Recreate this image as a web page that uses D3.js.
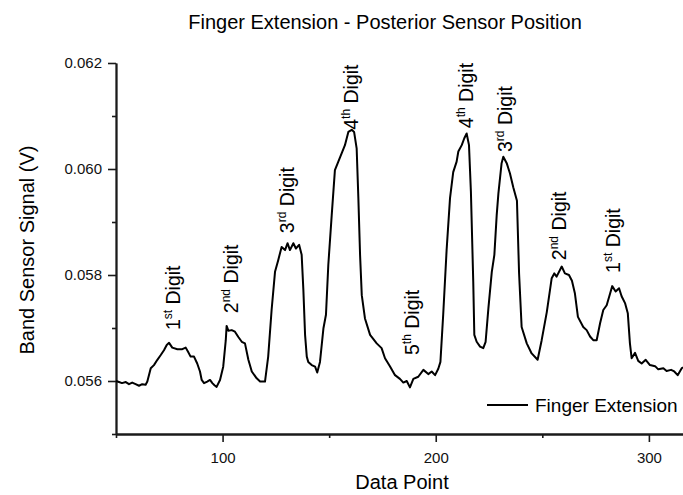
<!DOCTYPE html>
<html>
<head>
<meta charset="utf-8">
<script src="https://d3js.org/d3.v7.min.js"></script>
<style>
body { margin: 0; background: #fff; }
svg { display: block; font-family: "Liberation Sans", Arial, sans-serif; }
</style>
</head>
<body>
<svg id="drawing_region"></svg>
<script>
// data point index and band sensor signal (V)
const pointX = [
    50.0, 51.4, 52.8, 54.6, 56.1, 57.6, 59.2, 60.8, 62.3, 63.9,
    64.7, 66.3, 67.8, 69.4, 71.0, 72.5, 73.8, 74.9, 76.4, 78.8,
    81.1, 82.7, 83.8, 85.0, 86.6, 88.1, 89.4, 90.2, 91.3, 92.8,
    94.1, 95.2, 96.2, 97.2, 98.8, 100.3, 101.5, 101.9, 102.7, 104.3,
    105.8, 107.4, 109.0, 110.5, 112.1, 113.7, 116.0, 117.6, 119.9, 121.4,
    123.0, 124.6, 126.1, 127.7, 129.3, 130.5, 131.6, 133.2, 134.4, 135.9,
    137.1, 137.9, 138.7, 139.5, 140.2, 141.8, 143.4, 144.4, 145.7, 147.3,
    148.5, 149.6, 151.2, 152.7, 154.3, 155.9, 157.4, 159.0, 160.6, 161.7,
    162.9, 163.7, 164.5, 165.3, 166.8, 169.2, 172.3, 174.6, 176.2, 178.5,
    180.9, 183.2, 184.8, 186.4, 187.9, 189.5, 191.8, 194.2, 196.5, 198.1,
    199.7, 201.2, 202.2, 203.5, 205.1, 206.7, 208.2, 209.8, 210.6, 212.2,
    213.4, 214.5, 215.6, 216.5, 217.6, 218.1, 219.2, 220.8, 222.3, 223.4,
    224.7, 226.3, 227.5, 228.6, 229.4, 230.9, 231.7, 233.3, 234.8, 236.4,
    238.1, 239.1, 240.3, 242.7, 245.0, 247.8, 249.7, 252.1, 254.4, 255.6,
    256.7, 259.1, 260.6, 262.5, 263.9, 265.3, 266.7, 269.2, 270.8, 272.4,
    273.9, 275.5, 277.1, 278.6, 280.2, 281.8, 282.8, 284.4, 286.0, 287.2,
    288.8, 290.1, 291.1, 291.9, 293.5, 295.0, 296.6, 298.5, 300.5, 302.9,
    304.4, 306.8, 308.3, 310.4, 311.9, 313.5, 315.4, 316.0
];
const signal = [
    0.05600, 0.05598, 0.05596, 0.05598, 0.05594, 0.05597, 0.05594, 0.05591, 0.05594, 0.05593,
    0.05599, 0.05624, 0.05630, 0.05640, 0.05649, 0.05658, 0.05668, 0.05672, 0.05663, 0.05660,
    0.05660, 0.05663, 0.05655, 0.05646, 0.05646, 0.05633, 0.05618, 0.05602, 0.05596, 0.05599,
    0.05602, 0.05596, 0.05592, 0.05589, 0.05602, 0.05627, 0.05677, 0.05704, 0.05695, 0.05696,
    0.05693, 0.05683, 0.05674, 0.05671, 0.05640, 0.05618, 0.05605, 0.05599, 0.05599, 0.05646,
    0.05734, 0.05806, 0.05828, 0.05853, 0.05847, 0.05860, 0.05847, 0.05860, 0.05850, 0.05857,
    0.05838, 0.05772, 0.05687, 0.05646, 0.05636, 0.05630, 0.05627, 0.05616, 0.05636, 0.05699,
    0.05725, 0.05819, 0.05913, 0.05998, 0.06014, 0.06030, 0.06045, 0.06070, 0.06074, 0.06070,
    0.06039, 0.05945, 0.05838, 0.05762, 0.05718, 0.05687, 0.05671, 0.05662, 0.05643, 0.05628,
    0.05611, 0.05604, 0.05597, 0.05600, 0.05588, 0.05604, 0.05608, 0.05621, 0.05613, 0.05618,
    0.05611, 0.05623, 0.05636, 0.05725, 0.05847, 0.05945, 0.05994, 0.06014, 0.06033, 0.06045,
    0.06058, 0.06067, 0.06045, 0.05957, 0.05787, 0.05687, 0.05674, 0.05665, 0.05662, 0.05674,
    0.05737, 0.05806, 0.05838, 0.05913, 0.05954, 0.06011, 0.06023, 0.06011, 0.05992, 0.05965,
    0.05940, 0.05803, 0.05702, 0.05671, 0.05652, 0.05640, 0.05677, 0.05730, 0.05794, 0.05803,
    0.05797, 0.05816, 0.05803, 0.05800, 0.05789, 0.05765, 0.05721, 0.05702, 0.05696, 0.05684,
    0.05677, 0.05677, 0.05709, 0.05734, 0.05743, 0.05765, 0.05779, 0.05769, 0.05775, 0.05760,
    0.05747, 0.05728, 0.05671, 0.05643, 0.05653, 0.05638, 0.05633, 0.05640, 0.05630, 0.05628,
    0.05622, 0.05624, 0.05619, 0.05621, 0.05618, 0.05611, 0.05624, 0.05626
];

// digit annotations (anchored in data coordinates)
const digitNum = ['1', '2', '3', '4', '5', '4', '3', '2', '1'];
const digitSup = ['st', 'nd', 'rd', 'th', 'th', 'th', 'rd', 'nd', 'st'];
const digitX = [80.1, 107.3, 133.5, 163.6, 192.2, 217.5, 235.8, 261.1, 286.5];
const digitY = [0.05696, 0.05728, 0.05879, 0.06074, 0.05649, 0.06077, 0.06032, 0.05828, 0.05804];

const xTicks = [100, 200, 300];
const xMinorTicks = [50, 150, 250];
const yTicks = [0.056, 0.058, 0.060, 0.062];
const yMinorTicks = [0.055, 0.057, 0.059, 0.061];

const chartTitle = 'Finger Extension - Posterior Sensor Position';
const xLabel = 'Data Point';
const yLabel = 'Band Sensor Signal (V)';
const seriesName = 'Finger Extension';

class LineChart {

    constructor( config, data ) {
        this.config = {
            parent: config.parent,
            width: config.width || 683,
            height: config.height || 495,
            margin: config.margin || {top:10, right:10, bottom:10, left:10}
        }
        this.data = data;
        this.init();
    }

    init() {
        let self = this;

        self.svg = d3.select( self.config.parent )
            .attr('width', self.config.width)
            .attr('height', self.config.height);

        self.chart = self.svg.append('g')
            .attr('transform', `translate(${self.config.margin.left}, ${self.config.margin.top})`);

        self.inner_width = self.config.width - self.config.margin.left - self.config.margin.right;
        self.inner_height = self.config.height - self.config.margin.top - self.config.margin.bottom;

        self.xscale = d3.scaleLinear()
            .domain( [50, 316] )
            .range( [0, self.inner_width] );

        self.yscale = d3.scaleLinear()
            .domain( [0.055, 0.062] )
            .range( [self.inner_height, 0] );

        self.xaxis = d3.axisBottom( self.xscale )
            .tickValues( xTicks )
            .tickSize(8)
            .tickSizeOuter(0)
            .tickPadding(10)
            .tickFormat( d3.format('d') );

        self.xaxis_minor = d3.axisBottom( self.xscale )
            .tickValues( xMinorTicks )
            .tickSize(4)
            .tickSizeOuter(0)
            .tickFormat('');

        self.yaxis = d3.axisLeft( self.yscale )
            .tickValues( yTicks )
            .tickSize(8)
            .tickSizeOuter(0)
            .tickPadding(6)
            .tickFormat( d3.format('.3f') );

        self.yaxis_minor = d3.axisLeft( self.yscale )
            .tickValues( yMinorTicks )
            .tickSize(4)
            .tickSizeOuter(0)
            .tickFormat('');

        self.xaxis_group = self.chart.append('g')
            .attr('transform', `translate(0, ${self.inner_height})`);
        self.xaxis_minor_group = self.chart.append('g')
            .attr('transform', `translate(0, ${self.inner_height})`);
        self.yaxis_group = self.chart.append('g');
        self.yaxis_minor_group = self.chart.append('g');

        self.svg.append('text')
            .attr('x', 385)
            .attr('y', 29)
            .attr('text-anchor', 'middle')
            .style('font-size', '20px')
            .text( chartTitle );

        self.svg.append('text')
            .attr('x', 402)
            .attr('y', 489)
            .attr('text-anchor', 'middle')
            .style('font-size', '20px')
            .text( xLabel );

        self.svg.append('text')
            .attr('transform', 'rotate(-90)')
            .attr('x', -250)
            .attr('y', 34)
            .attr('text-anchor', 'middle')
            .style('font-size', '20px')
            .text( yLabel );
    }

    render() {
        let self = this;

        const line = d3.line()
            .x( d => self.xscale( d.x ) )
            .y( d => self.yscale( d.y ) );

        self.chart.append('path')
            .datum( self.data )
            .attr('fill', 'none')
            .attr('stroke', '#000')
            .attr('stroke-width', 2)
            .attr('stroke-linejoin', 'round')
            .attr('d', line);

        // rotated digit labels with superscript ordinals
        const labels = self.chart.selectAll('.digit')
            .data( digitNum.map( (n, i) => ({n: n, s: digitSup[i], x: digitX[i], y: digitY[i]}) ) )
            .enter()
            .append('text')
            .attr('class', 'digit')
            .attr('transform', d => `translate(${self.xscale(d.x)}, ${self.yscale(d.y)}) rotate(-90)`)
            .style('font-size', '19.5px');
        labels.append('tspan').text( d => d.n );
        labels.append('tspan')
            .attr('dy', -8)
            .style('font-size', '12px')
            .text( d => d.s );
        labels.append('tspan')
            .attr('dy', 8)
            .text(' Digit');

        [ [self.xaxis_group, self.xaxis], [self.xaxis_minor_group, self.xaxis_minor],
          [self.yaxis_group, self.yaxis], [self.yaxis_minor_group, self.yaxis_minor] ]
            .forEach( ([g, ax]) => {
                g.call( ax );
                g.select('.domain').attr('stroke', '#1a1a1a').attr('stroke-width', 1.8);
                g.selectAll('.tick line').attr('stroke', '#1a1a1a').attr('stroke-width', 1.6);
                g.selectAll('.tick text')
                    .attr('fill', '#111')
                    .style('font-size', '15px')
                    .style('font-family', '"Liberation Sans", Arial, sans-serif');
            });

        // legend
        const legend = self.svg.append('g');
        legend.append('line')
            .attr('x1', 487).attr('x2', 528)
            .attr('y1', 405).attr('y2', 405)
            .attr('stroke', '#000')
            .attr('stroke-width', 2);
        legend.append('text')
            .attr('x', 535)
            .attr('y', 411.5)
            .style('font-size', '19px')
            .text( seriesName );
    }
}

const data = pointX.map( (x, i) => ({x: x, y: signal[i]}) );

const line_chart = new LineChart({
    parent: '#drawing_region',
    width: 683,
    height: 495,
    margin: {top:63, right:0, bottom:61, left:116}
}, data);
line_chart.render();
</script>
</body>
</html>
